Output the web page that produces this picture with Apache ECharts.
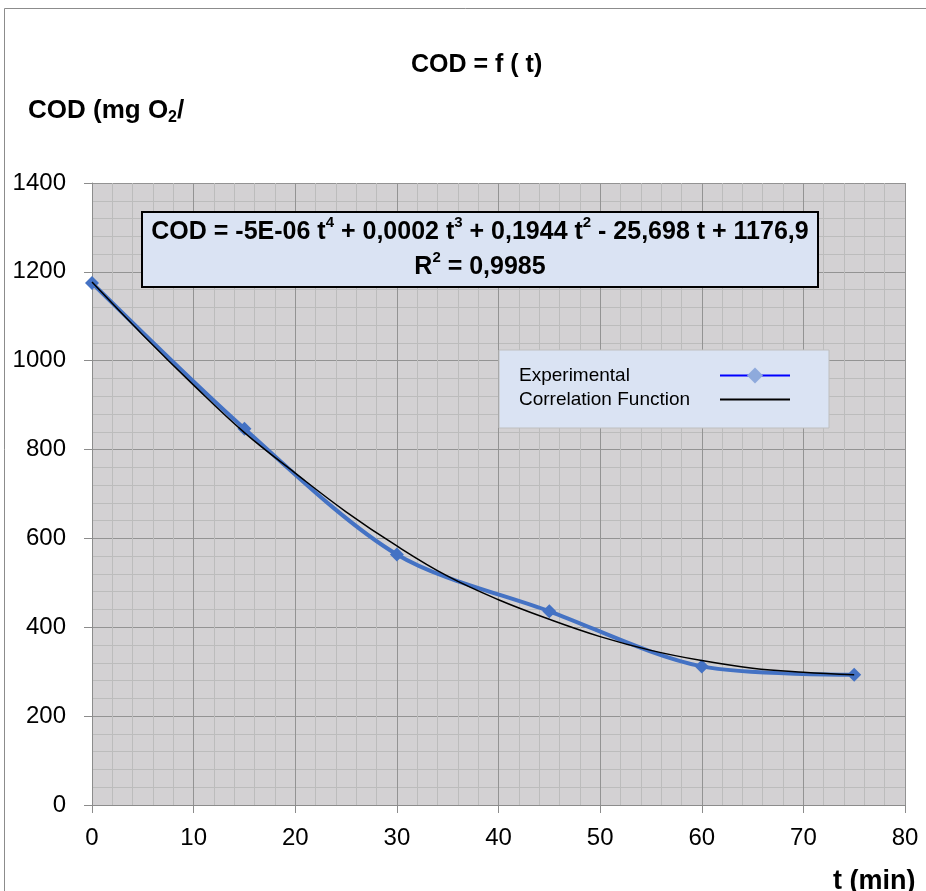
<!DOCTYPE html>
<html>
<head>
<meta charset="utf-8">
<script src="https://cdn.jsdelivr.net/npm/echarts@6/dist/echarts.min.js"></script>
<style>
html,body{margin:0;padding:0;background:#fff;}
#chart{width:926px;height:891px;}
</style>
</head>
<body>
<div id="chart"></div>
<script>
// ---- data ----
const titleText = 'COD = f ( t)';
const xAxisTitle = 't (min)';
const seriesNames = ['Experimental', 'Correlation Function'];
const tExp = [0, 15, 30, 45, 60, 75];
const codExp = [1175, 847, 564, 436, 312, 293];
const tFit = [0, 5, 10, 15, 20, 25, 30, 35, 40, 45, 50, 55, 60, 65, 70, 75];
const codFit = [1177, 1058, 945, 838, 747, 660, 583, 515, 462, 418, 379, 348, 325, 308, 299, 293];
const xTicks = [0, 10, 20, 30, 40, 50, 60, 70, 80];
const yTicks = [0, 200, 400, 600, 800, 1000, 1200, 1400];
// equation text with superscripts marked as rich-text tokens
const equationRich = '{b|COD = -5E-06 t}{s|4}{b| + 0,0002 t}{s|3}{b| + 0,1944 t}{s|2}{b| - 25,698 t + 1176,9}\n{b|R}{s|2}{b| = 0,9985}';
const yAxisTitleRich = '{b|COD (mg O}{u|2}{b|/}';

const narrowBold = "'Liberation Sans Narrow', 'Arial Narrow', 'Liberation Sans', sans-serif";
const labelFont = "'Liberation Sans', Arial, sans-serif";

const expData = tExp.map((t, i) => [t, codExp[i]]);
const fitData = tFit.map((t, i) => [t, codFit[i]]);

const chart = echarts.init(document.getElementById('chart'), null, {renderer: 'canvas'});
const option = {
  backgroundColor: '#ffffff',
  animation: false,
  title: {
    text: titleText,
    left: 406,
    top: 48,
    textStyle: {fontFamily: narrowBold, fontWeight: 'bold', fontSize: 25, color: '#000'}
  },
  grid: {
    left: 92, right: 21, top: 183, bottom: 86,
    show: true, backgroundColor: '#d3d1d3', borderWidth: 0
  },
  xAxis: {
    type: 'value',
    min: xTicks[0], max: xTicks[xTicks.length - 1], interval: 10,
    axisLine: {show: true, lineStyle: {color: '#8c8c8c', width: 1}},
    axisTick: {show: true, length: 8, lineStyle: {color: '#8c8c8c'}},
    axisLabel: {margin: 21, fontSize: 24, color: '#000', fontFamily: labelFont, formatter: v => String(v)},
    splitLine: {show: true, lineStyle: {color: '#939393', width: 1}},
    minorTick: {show: false, splitNumber: 5},
    minorSplitLine: {show: true, lineStyle: {color: '#bcbcbc', width: 1}}
  },
  yAxis: {
    type: 'value',
    min: yTicks[0], max: yTicks[yTicks.length - 1], interval: 200,
    axisLine: {show: true, lineStyle: {color: '#8c8c8c', width: 1}},
    axisTick: {show: true, length: 8, lineStyle: {color: '#8c8c8c'}},
    axisLabel: {margin: 26, fontSize: 24, color: '#000', fontFamily: labelFont, formatter: v => String(v)},
    splitLine: {show: true, lineStyle: {color: '#939393', width: 1}},
    minorTick: {show: false, splitNumber: 5},
    minorSplitLine: {show: true, lineStyle: {color: '#bcbcbc', width: 1}}
  },
  legend: {
    orient: 'vertical',
    left: 499, top: 350,
    padding: [16, 38, 19, 20],
    itemGap: 5,
    itemWidth: 70, itemHeight: 20,
    align: 'right',
    backgroundColor: '#dae3f3',
    borderColor: '#bfbfbf', borderWidth: 1,
    formatter: name => '{n|' + name + '}',
    textStyle: {
      fontSize: 19, color: '#000', fontFamily: labelFont,
      rich: {n: {width: 196, align: 'left', fontSize: 19, fontFamily: labelFont, color: '#000'}}
    },
    data: [
      {name: seriesNames[0], lineStyle: {color: '#0000ff', width: 2}, itemStyle: {color: '#8eaadc'}},
      {name: seriesNames[1], lineStyle: {color: '#000000', width: 2},
       itemStyle: {color: 'rgba(0,0,0,0)', borderColor: 'rgba(0,0,0,0)', borderWidth: 0}}
    ]
  },
  series: [
    {
      name: seriesNames[0],
      type: 'line',
      data: expData,
      smooth: 0.3,
      symbol: 'diamond',
      symbolSize: 14,
      lineStyle: {color: '#4472c4', width: 4},
      itemStyle: {color: '#4472c4'},
      z: 3
    },
    {
      name: seriesNames[1],
      type: 'line',
      data: fitData,
      smooth: 0.4,
      symbol: 'none',
      lineStyle: {color: '#000000', width: 1.5},
      itemStyle: {color: '#000000'},
      z: 4
    }
  ],
  graphic: [
    {
      type: 'polyline', z: 0, silent: true,
      shape: {points: [[4.5, 891], [4.5, 8.5], [926, 8.5]]},
      style: {stroke: '#8c8c8c', lineWidth: 1, fill: null}
    },
    {
      type: 'text', left: 28, top: 98, z: 10,
      style: {
        text: yAxisTitleRich,
        rich: {
          b: {fontFamily: narrowBold, fontWeight: 'bold', fontSize: 26, lineHeight: 30, fill: '#000', color: '#000'},
          u: {fontFamily: narrowBold, fontWeight: 'bold', fontSize: 16, lineHeight: 30, verticalAlign: 'bottom', padding: [10, 0, 0, 0], fill: '#000', color: '#000'}
        }
      }
    },
    {
      type: 'text', left: 833, top: 868, z: 10,
      style: {text: xAxisTitle, fontFamily: narrowBold, fontWeight: 'bold', fontSize: 27, fill: '#000'}
    },
    {
      type: 'group', z: 20,
      children: [
        {
          type: 'rect', z: 20,
          shape: {x: 142, y: 212, width: 676, height: 75},
          style: {fill: '#dae3f3', stroke: '#000', lineWidth: 2}
        },
        {
          type: 'text', z: 21,
          x: 480, y: 250,
          style: {
            text: equationRich,
            align: 'center', verticalAlign: 'middle',
            rich: {
              b: {fontFamily: narrowBold, fontWeight: 'bold', fontSize: 25, lineHeight: 35, fill: '#000', color: '#000'},
              s: {fontFamily: narrowBold, fontWeight: 'bold', fontSize: 15, lineHeight: 35, verticalAlign: 'top', padding: [0, 0, 14, 0], fill: '#000', color: '#000'}
            }
          }
        }
      ]
    }
  ]
};
chart.setOption(option);
</script>
</body>
</html>
